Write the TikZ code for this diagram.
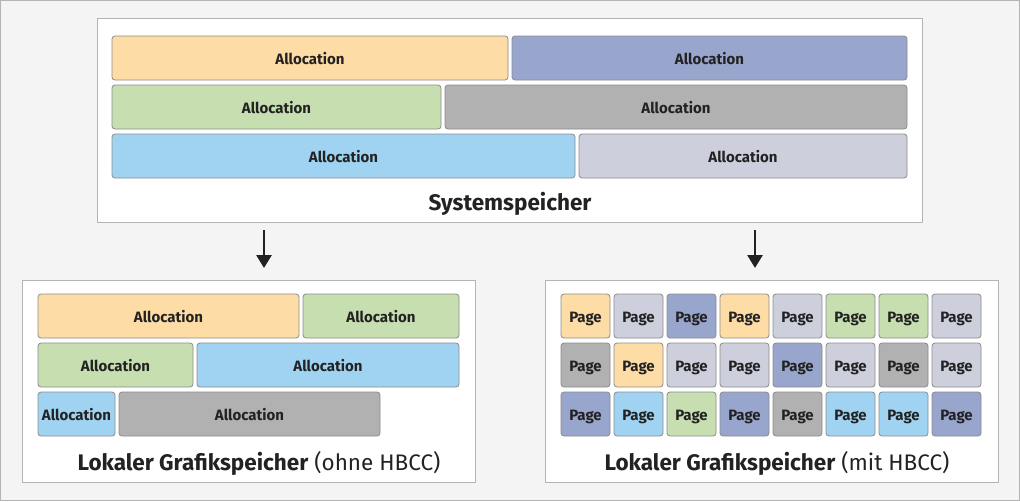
\documentclass[tikz,border=0pt]{standalone}
\usepackage{fontspec}
\setmainfont{Fira Sans}
\usetikzlibrary{arrows.meta}
\definecolor{bg}{HTML}{F4F4F4}
\definecolor{frameline}{HTML}{B4B4B4}
\definecolor{cOr}{HTML}{FDDCA5}
\definecolor{cBp}{HTML}{98A5CD}
\definecolor{cGr}{HTML}{C6DEB0}
\definecolor{cGy}{HTML}{B1B1B1}
\definecolor{cLb}{HTML}{A0D3F2}
\definecolor{cLv}{HTML}{CDCFDC}
\definecolor{cellline}{HTML}{8C8C8C}
\definecolor{txt}{HTML}{222222}
\tikzset{
  panel/.style={draw=frameline, line width=1pt, fill=white, inner sep=0pt},
  cell/.style={draw=cellline, line width=0.8pt, rounded corners=3pt, inner sep=0pt,
    text height=12.3pt, text depth=0pt,
    font=\bfseries\fontsize{15}{17}\selectfont, text=txt},
  title/.style={font=\fontsize{22.5}{26}\selectfont, text=txt, inner sep=0pt},
  arr/.style={line width=2.8pt, draw=txt, -{Triangle[width=15pt,length=13pt]}},
}
% name, x1, y1, x2, y2, colour, text
\newcommand\abox[7]{\node[cell, fill=#6, minimum width={(#4-#2)*1pt}, minimum height={(#5-#3)*1pt}] (#1) at ({(#2+#4)/2},{(#3+#5)/2}) {#7};}
\begin{document}
\begin{tikzpicture}[x=1pt,y=-1pt]
\fill[bg] (0,0) rectangle (1020,501);
\draw[frameline, line width=1pt] (0.5,0.5) rectangle (1019.5,500.5);
\useasboundingbox (0,0) rectangle (1020,501);
% top panel
\node[panel, minimum width=825pt, minimum height=204pt] (sys) at (509.5,120) {};
\abox{s1}{112}{36}{508}{80}{cOr}{Allocation}
\abox{s2}{512}{36}{907}{80}{cBp}{Allocation}
\abox{s3}{112}{85}{441}{129}{cGr}{Allocation}
\abox{s4}{445}{85}{907}{129}{cGy}{Allocation}
\abox{s5}{112}{134}{575}{178}{cLb}{Allocation}
\abox{s6}{579}{134}{907}{178}{cLv}{Allocation}
\node[title, font=\bfseries\fontsize{22.5}{26}\selectfont] (systitle) at (510,204) {Systemspeicher};
% left panel
\node[panel, minimum width=453pt, minimum height=202pt] (left) at (248.5,381) {};
\abox{l1}{38}{294}{299}{338}{cOr}{Allocation}
\abox{l2}{303}{294}{459}{338}{cGr}{Allocation}
\abox{l3}{38}{343}{193}{387}{cGr}{Allocation}
\abox{l4}{197}{343}{459}{387}{cLb}{Allocation}
\abox{l5}{38}{392}{115}{436}{cLb}{Allocation}
\abox{l6}{119}{392}{380}{436}{cGy}{Allocation}
\node[title] (lefttitle) at (259,463) {\textbf{Lokaler Grafikspeicher} (ohne HBCC)};
% right panel
\node[panel, minimum width=453pt, minimum height=202pt] (right) at (771.5,381) {};
\foreach \r/\y/\cols in {1/294/{cOr,cLv,cBp,cOr,cLv,cGr,cGr,cLv},
                         2/343/{cGy,cOr,cLv,cLv,cBp,cLv,cGy,cLv},
                         3/392/{cBp,cLb,cGr,cBp,cGy,cLb,cLb,cBp}}{
  \foreach \c [count=\i from 0] in \cols {
    \pgfmathsetmacro\xa{561+53*\i}
    \pgfmathsetmacro\xb{\xa+49}
    \pgfmathsetmacro\yb{\y+44}
    \abox{p\r-\i}{\xa}{\y}{\xb}{\yb}{\c}{Page}
  }
}
\node[title] (righttitle) at (777,463) {\textbf{Lokaler Grafikspeicher} (mit HBCC)};
% arrows
\coordinate (a1s) at (264,230);
\coordinate (a1e) at (264,268);
\coordinate (a2s) at (755,230);
\coordinate (a2e) at (755,268);
\draw[arr] (a1s) -- (a1e);
\draw[arr] (a2s) -- (a2e);
\end{tikzpicture}
\end{document}
